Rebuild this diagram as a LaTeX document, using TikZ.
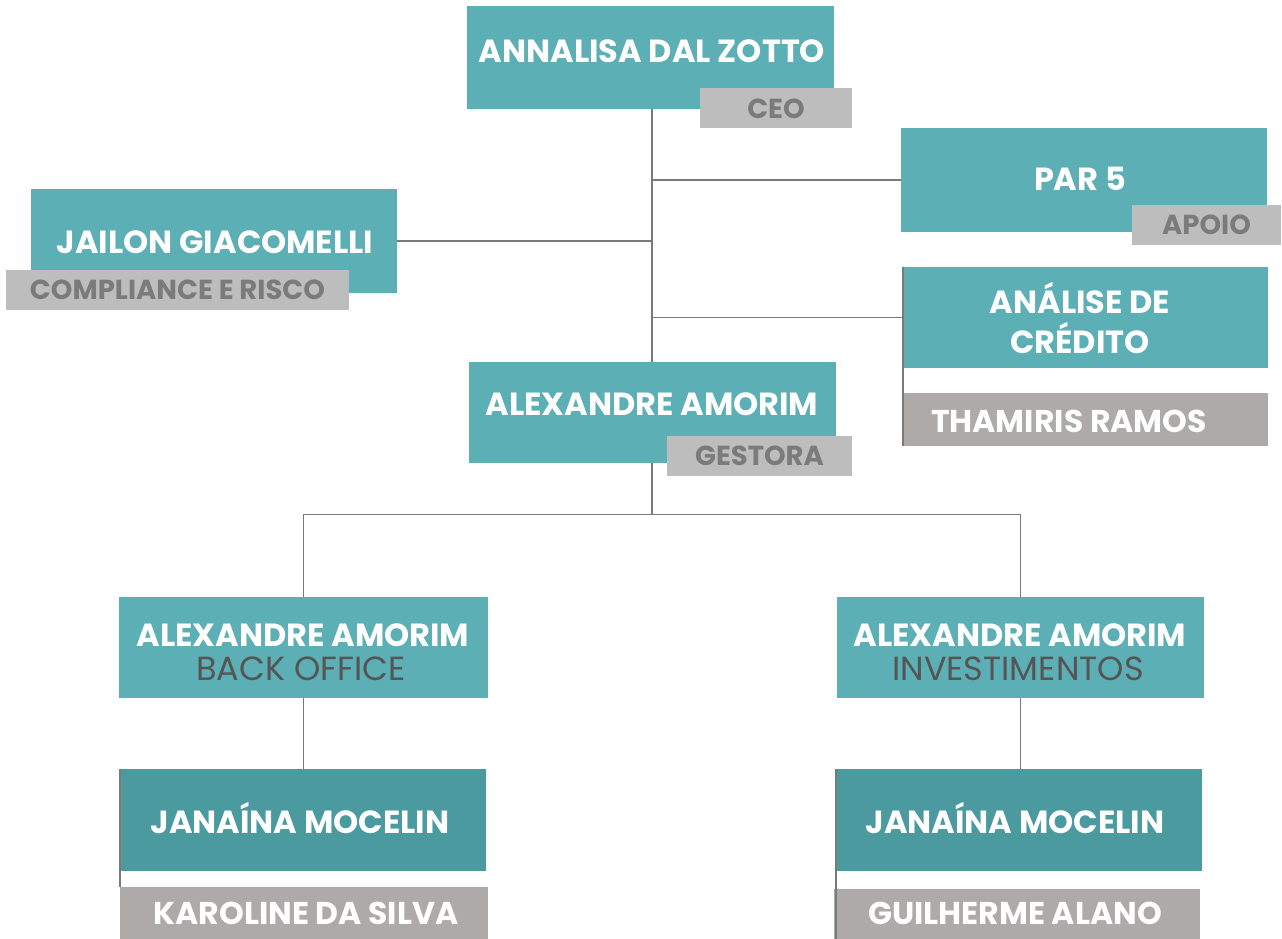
\documentclass[tikz,border=0pt]{standalone}
\usepackage{fontspec}
\setmainfont{Poppins}
\usetikzlibrary{positioning, calc}
\definecolor{orgteal}{HTML}{5CAFB5}
\definecolor{orgtealdk}{HTML}{4B9AA0}
\definecolor{taggray}{HTML}{BDBDBD}
\definecolor{tagtext}{HTML}{7B7B7B}
\definecolor{namegray}{HTML}{AEAAA9}
\definecolor{linegray}{HTML}{7A7A7A}
\definecolor{subtext}{HTML}{555555}
\tikzset{
  unitbox/.style  = {fill=orgteal, inner sep=0pt},
  leadbox/.style  = {unitbox, fill=orgtealdk},
  boxtext/.style  = {text=white, inner sep=0pt, font=\fontsize{32}{40}\selectfont\bfseries},
  subtitle/.style = {text=subtext, inner sep=0pt, font=\fontsize{33.5}{40}\selectfont},
  roletag/.style  = {fill=taggray, text=tagtext, inner sep=0pt, minimum height=40pt,
                     font=\fontsize{27.5}{30}\selectfont\bfseries},
  namebar/.style  = {fill=namegray, inner sep=0pt},
  nametext/.style = {text=white, inner sep=0pt, font=\fontsize{31.5}{34}\selectfont\bfseries},
  orgline/.style  = {draw=linegray, line width=1.3pt},
  sideline/.style = {draw=linegray, line width=2pt},
}
\begin{document}
\begin{tikzpicture}[x=1pt, y=-1pt]
  \useasboundingbox (0,0) rectangle (1282,939);
  % boxes
  \node[unitbox, minimum width=367pt, minimum height=103pt] (ceo) at (650.5,57.5) {};
  \node[unitbox, minimum width=366pt, minimum height=104pt] (par) at (1084,180) {};
  \node[unitbox, minimum width=366pt, minimum height=104pt] (jailon) at (214,241) {};
  \node[unitbox, minimum width=365pt, minimum height=101pt] (credito) at (1085.5,317.5) {};
  \node[unitbox, minimum width=367pt, minimum height=101pt] (gestora) at (652.5,412.5) {};
  \node[unitbox, minimum width=369pt, minimum height=101pt] (backoff) at (303.5,647.5) {};
  \node[unitbox, minimum width=367pt, minimum height=101pt] (invest) at (1020.5,647.5) {};
  \node[leadbox, minimum width=366pt, minimum height=102pt] (lead1) at (303,820) {};
  \node[leadbox, minimum width=366pt, minimum height=102pt] (lead2) at (1019,820) {};
  % box texts
  \node[boxtext] (ceoname) at (652,51) {ANNALISA DAL ZOTTO};
  \node[boxtext] (parname) at (1080,179) {PAR 5};
  \node[boxtext] (jailonname) at (215,242) {JAILON GIACOMELLI};
  \node[boxtext, align=center] (creditoname) at (1080,318) {ANÁLISE DE\\CRÉDITO};
  \node[boxtext] (gestoraname) at (652,404) {ALEXANDRE AMORIM};
  \node[boxtext] (backname) at (303,635) {ALEXANDRE AMORIM};
  \node[subtitle] (backsub) at (301,669) {BACK OFFICE};
  \node[boxtext] (investname) at (1020,635) {ALEXANDRE AMORIM};
  \node[subtitle] (investsub) at (1018,669) {INVESTIMENTOS};
  \node[boxtext] (lead1name) at (300,818) {JANAÍNA MOCELIN};
  \node[boxtext] (lead2name) at (1015,818) {JANAÍNA MOCELIN};
  % role tags
  \node[roletag, minimum width=152pt] (ceotag) at (776,108.5) {CEO};
  \node[roletag, minimum width=149pt] (partag) at (1206.5,225) {APOIO};
  \node[roletag, minimum width=343pt] (jailontag) at (177.5,290) {COMPLIANCE E RISCO};
  \node[roletag, minimum width=185pt] (gestoratag) at (759.5,456) {GESTORA};
  % name bars
  \node[namebar, minimum width=365pt, minimum height=53pt] (thamiris) at (1085.5,419.5) {};
  \node[namebar, minimum width=368pt, minimum height=52pt] (karoline) at (304,913) {};
  \node[namebar, minimum width=366pt, minimum height=50pt] (guilherme) at (1017,914) {};
  \node[nametext] (thamirisname) at (1069,421) {THAMIRIS RAMOS};
  \node[nametext] (karolinename) at (306,913) {KAROLINE DA SILVA};
  \node[nametext] (guilhermename) at (1015,913) {GUILHERME ALANO};
  % connectors
  \coordinate (trunk) at (652,0);
  \draw[orgline] (ceo.south -| trunk) -- (gestora.north -| trunk);
  \draw[orgline] (par.west) -- (par.west -| trunk);
  \draw[orgline] (jailon.east) -- (jailon.east -| trunk);
  \draw[orgline] (credito.west) -- (credito.west -| trunk);
  \coordinate (split) at ($(gestora.south -| trunk)+(0,51)$);
  \draw[orgline] (gestora.south -| trunk) -- (split);
  \draw[orgline] (split) -| (backoff.north);
  \draw[orgline] (split) -| (invest.north);
  \draw[orgline] (backoff.south) -- (backoff.south |- lead1.north);
  \draw[orgline] (invest.south) -- (invest.south |- lead2.north);
  \draw[sideline] (credito.north west) -- (credito.north west |- thamiris.south);
  \draw[sideline] (lead1.north west) -- (lead1.north west |- karoline.north);
  \draw[sideline] (lead2.north west) -- (lead2.north west |- guilherme.south);
\end{tikzpicture}
\end{document}
